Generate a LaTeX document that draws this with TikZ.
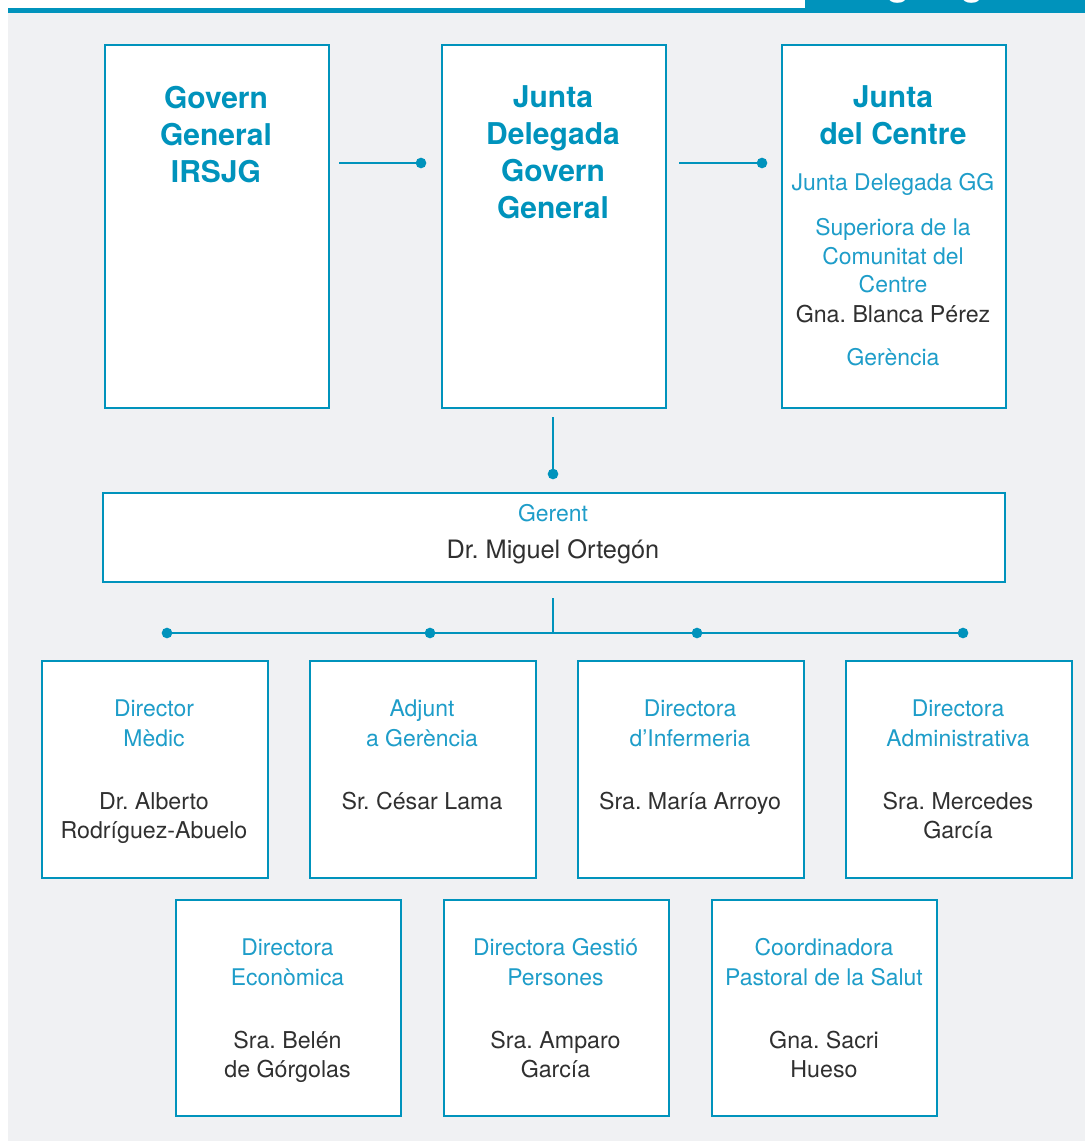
\documentclass[tikz,border=0pt]{standalone}
\usepackage{fontspec}
\setmainfont{TeX Gyre Heros}
\frenchspacing
\definecolor{cblue}{HTML}{0093BC}
\definecolor{ctxt}{HTML}{1E9DC9}
\definecolor{cdark}{HTML}{303030}
\definecolor{cgray}{HTML}{F0F1F3}
\begin{document}
\begin{tikzpicture}[x=0.75pt,y=-0.75pt,
  box/.style={draw=cblue, line width=1.2pt, fill=white, anchor=north west, inner sep=0pt},
  topbox/.style={box, minimum width=168pt, minimum height=272.25pt},
  rowbox/.style={box, minimum width=169.5pt, minimum height=162.75pt},
  lowbox/.style={box, minimum width=168.75pt, minimum height=162pt},
  conn/.style={draw=cblue, line width=2.1pt},
  thinconn/.style={draw=cblue, line width=1.3pt},
  dot/.style={circle, fill=cblue, inner sep=0pt, minimum size=8pt},
  ttl/.style={font=\bfseries\fontsize{22.5}{27}\selectfont, text=cblue, anchor=base, inner sep=0pt},
  role/.style={font=\fontsize{17.2}{21}\selectfont, text=ctxt, anchor=base, inner sep=0pt},
  pname/.style={font=\fontsize{17.4}{21}\selectfont, text=cdark, anchor=base, inner sep=0pt},
  gname/.style={font=\fontsize{19}{23}\selectfont, text=cdark, anchor=base, inner sep=0pt}]
\useasboundingbox (0,0) rectangle (1085,1141);
% background
\fill[white] (0,0) rectangle (1085,1141);
\fill[cgray] (8,13) rectangle (1085,1141);
\fill[cblue] (8,8) rectangle (1085,13);
\fill[cblue] (805,0) rectangle (1085,13);
\begin{scope}
  \clip (805,0) rectangle (1085,13);
  \node[font=\bfseries\fontsize{27}{27}\selectfont, text=white, anchor=base west, inner sep=0pt] (hdr) at (845,-4) {Organigrama};
\end{scope}

% top row boxes
\node[topbox] (b1) at (104,44) {};
\node[topbox] (b2) at (441,44) {};
\node[topbox] (b3) at (781,44) {};

\node[ttl] (b1t1) at (216,109) {Govern};
\node[ttl] (b1t2) at (216,146) {General};
\node[ttl] (b1t3) at (216,183) {IRSJG};

\node[ttl] (b2t1) at (553,108) {Junta};
\node[ttl] (b2t2) at (553,145) {Delegada};
\node[ttl] (b2t3) at (553,182) {Govern};
\node[ttl] (b2t4) at (553,219) {General};

\node[ttl] (b3t1) at (893,108) {Junta};
\node[ttl] (b3t2) at (893,145) {del Centre};
\node[role] (b3r1) at (893,191) {Junta Delegada GG};
\node[role] (b3r2) at (893,236) {Superiora de la};
\node[role] (b3r3) at (893,264) {Comunitat del};
\node[role] (b3r4) at (893,292) {Centre};
\node[pname] (b3n1) at (893,322) {Gna. Blanca Pérez};
\node[role] (b3r5) at (893,365) {Gerència};

% connectors top
\coordinate (c1s) at (339,163);
\node[dot] (d1) at (421,163) {};
\coordinate (c2s) at (679,163);
\node[dot] (d2) at (762,163) {};
\draw[conn] (c1s) -- (d1.center);
\draw[conn] (c2s) -- (d2.center);
\coordinate (c3s) at (553,417);
\node[dot] (d3) at (553,474) {};
\draw[conn] (c3s) -- (d3.center);

% gerent
\node[box, minimum width=676.5pt, minimum height=66.75pt] (ger) at (102,492) {};
\node[role] (gerr) at (553,521) {Gerent};
\node[gname] (gern) at (553,558) {Dr. Miguel Ortegón};

% distribution
\coordinate (c4s) at (553,598);
\coordinate (c4e) at (553,633);
\draw[thinconn] (c4s) -- (c4e);
\node[dot] (e1) at (167,633) {};
\node[dot] (e2) at (430,633) {};
\node[dot] (e3) at (697,633) {};
\node[dot] (e4) at (963,633) {};
\draw[conn] (e1.center) -- (e2.center) -- (e3.center) -- (e4.center);

% row 2
\node[rowbox] (r1) at (41,660) {};
\node[rowbox] (r2) at (309,660) {};
\node[rowbox] (r3) at (577,660) {};
\node[rowbox] (r4) at (845,660) {};

\node[role] (r1a) at (154,716) {Director};
\node[role] (r1b) at (154,746) {Mèdic};
\node[pname] (r1c) at (154,809) {Dr. Alberto};
\node[pname] (r1d) at (154,838) {Rodríguez-Abuelo};

\node[role] (r2a) at (422,716) {Adjunt};
\node[role] (r2b) at (422,746) {a Gerència};
\node[pname] (r2c) at (422,809) {Sr. César Lama};

\node[role] (r3a) at (690,716) {Directora};
\node[role] (r3b) at (690,746) {d’Infermeria};
\node[pname] (r3c) at (690,809) {Sra. María Arroyo};

\node[role] (r4a) at (958,716) {Directora};
\node[role] (r4b) at (958,746) {Administrativa};
\node[pname] (r4c) at (958,809) {Sra. Mercedes};
\node[pname] (r4d) at (958,838) {García};

% row 3
\node[lowbox] (s1) at (175,899) {};
\node[lowbox] (s2) at (443,899) {};
\node[lowbox] (s3) at (711,899) {};

\node[role] (s1a) at (287.5,955) {Directora};
\node[role] (s1b) at (287.5,985) {Econòmica};
\node[pname] (s1c) at (287.5,1048) {Sra. Belén};
\node[pname] (s1d) at (287.5,1077) {de Górgolas};

\node[role] (s2a) at (555.5,955) {Directora Gestió};
\node[role] (s2b) at (555.5,985) {Persones};
\node[pname] (s2c) at (555.5,1048) {Sra. Amparo};
\node[pname] (s2d) at (555.5,1077) {García};

\node[role] (s3a) at (824,955) {Coordinadora};
\node[role] (s3b) at (824,985) {Pastoral de la Salut};
\node[pname] (s3c) at (824,1048) {Gna. Sacri};
\node[pname] (s3d) at (824,1077) {Hueso};
\end{tikzpicture}
\end{document}
